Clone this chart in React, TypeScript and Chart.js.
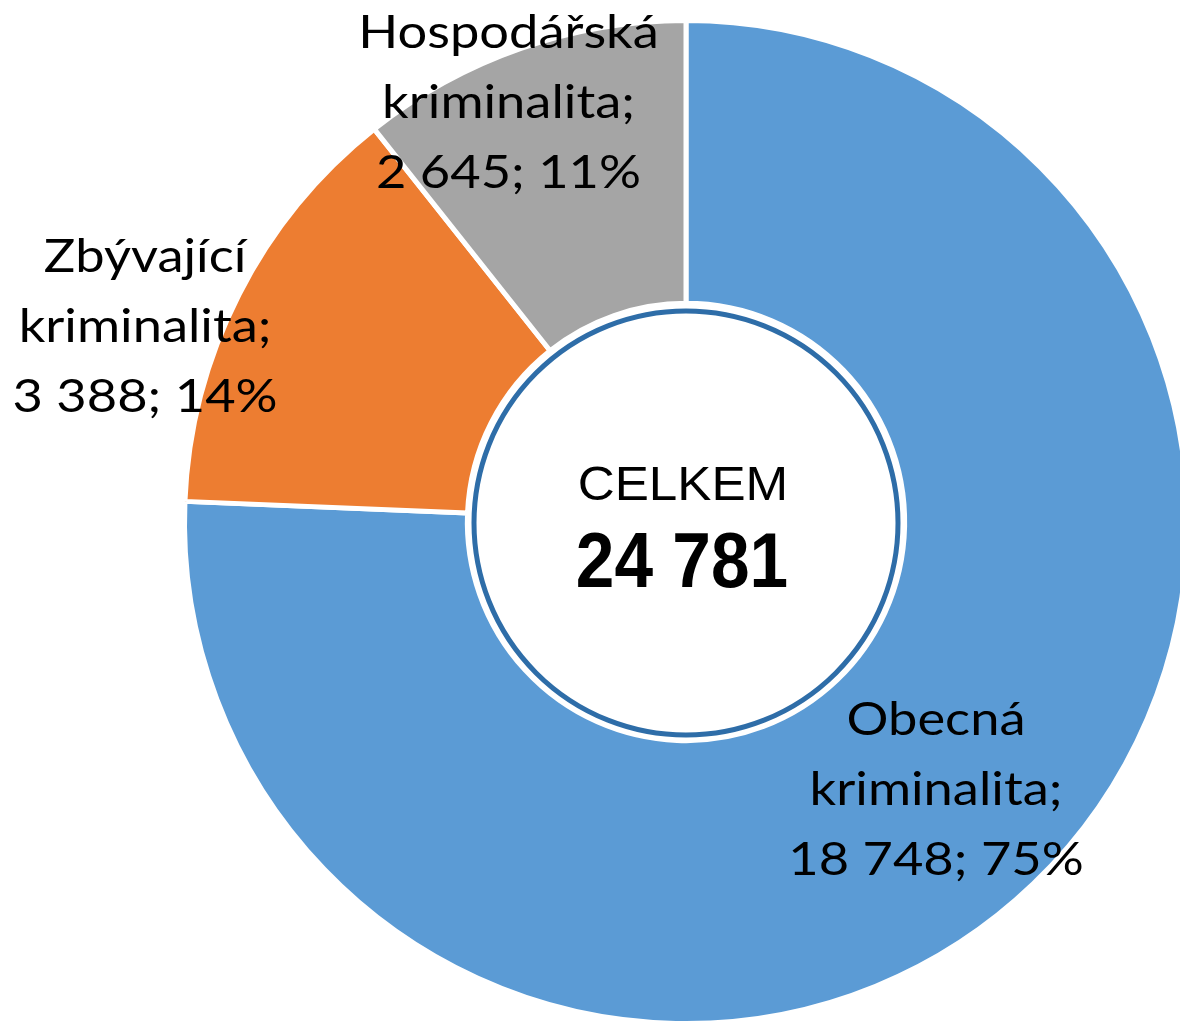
import React, { useEffect, useRef } from "react";
import { Chart, registerables } from "chart.js";

Chart.register(...registerables);

// ---- data ----
const categories = ["Obecná kriminalita", "Zbývající kriminalita", "Hospodářská kriminalita"];
const values = [18748, 3388, 2645];
const percentLabels = ["75%", "14%", "11%"];
const totalTitle = "CELKEM";
const colors = ["#5B9BD5", "#ED7D31", "#A5A5A5"];

// ---- style (label offsets from each slice's centroid) ----
const labelOffsets = [
  [0.7, 23],
  [-220, -17],
  [-59, -64],
];
const LABEL_FONT = "46px Lato";
const LABEL_SCALE_X = 1.14;
const LINE_HEIGHT = 70;

function fmt(n: number): string {
  return String(n).replace(/\B(?=(\d{3})+(?!\d))/g, " ");
}

function drawText(ctx: CanvasRenderingContext2D, t: string, x: number, y: number, font: string, sx: number) {
  ctx.save();
  ctx.translate(x, y);
  ctx.scale(sx, 1);
  ctx.font = font;
  ctx.textAlign = "center";
  ctx.textBaseline = "alphabetic";
  ctx.fillStyle = "#000";
  ctx.fillText(t, 0, 0);
  ctx.restore();
}

const overlayPlugin = {
  id: "overlay",
  afterDatasetsDraw(chart: any) {
    const ctx: CanvasRenderingContext2D = chart.ctx;
    const meta = chart.getDatasetMeta(0);
    const arcs = meta.data;
    if (!arcs.length) return;
    const cx = arcs[0].x;
    const cy = arcs[0].y;
    const total = values.reduce((a, b) => a + b, 0);

    ctx.save();
    // centre disc with blue ring
    ctx.beginPath();
    ctx.arc(cx, cy + 1, 212, 0, Math.PI * 2);
    ctx.fillStyle = "#ffffff";
    ctx.fill();
    ctx.lineWidth = 5;
    ctx.strokeStyle = "#2E6DA8";
    ctx.stroke();

    drawText(ctx, totalTitle, cx - 3, cy - 22, "48px 'Liberation Sans'", 1.066);
    drawText(ctx, fmt(total), cx - 4, cy + 65, "bold 78px 'Liberation Sans'", 0.89);

    // slice labels
    arcs.forEach((arc: any, i: number) => {
      const p = arc.tooltipPosition(false);
      const words = categories[i].split(" ");
      const lines = [words[0], words.slice(1).join(" ") + ";", fmt(values[i]) + "; " + percentLabels[i]];
      const [dx, dy] = labelOffsets[i];
      lines.forEach((t, j) => {
        drawText(ctx, t, p.x + dx, p.y + dy + (j - 1) * LINE_HEIGHT, LABEL_FONT, LABEL_SCALE_X);
      });
    });
    ctx.restore();
  },
};

export default function App() {
  const ref = useRef<HTMLCanvasElement | null>(null);

  useEffect(() => {
    if (!ref.current) return;
    const chart = new Chart(ref.current, {
      type: "doughnut",
      data: {
        labels: categories,
        datasets: [
          {
            data: values,
            backgroundColor: colors,
            borderColor: "#ffffff",
            borderWidth: 5,
          },
        ],
      },
      options: {
        responsive: false,
        animation: false,
        cutout: "43.6%",
        layout: { padding: { top: 18, bottom: 14, left: 0, right: 0 } },
        plugins: {
          legend: { display: false },
          tooltip: { enabled: false },
        },
      },
      plugins: [overlayPlugin],
    });
    return () => chart.destroy();
  }, []);

  return (
    <div
      style={{
        position: "fixed",
        left: 0,
        top: 0,
        width: "100vw",
        height: "100vh",
        overflow: "hidden",
        background: "#fff",
      }}
    >
      <canvas
        ref={ref}
        width={1372}
        height={1040}
        style={{ position: "absolute", left: 0, top: 0, width: 1372, height: 1040, display: "block" }}
      />
    </div>
  );
}
